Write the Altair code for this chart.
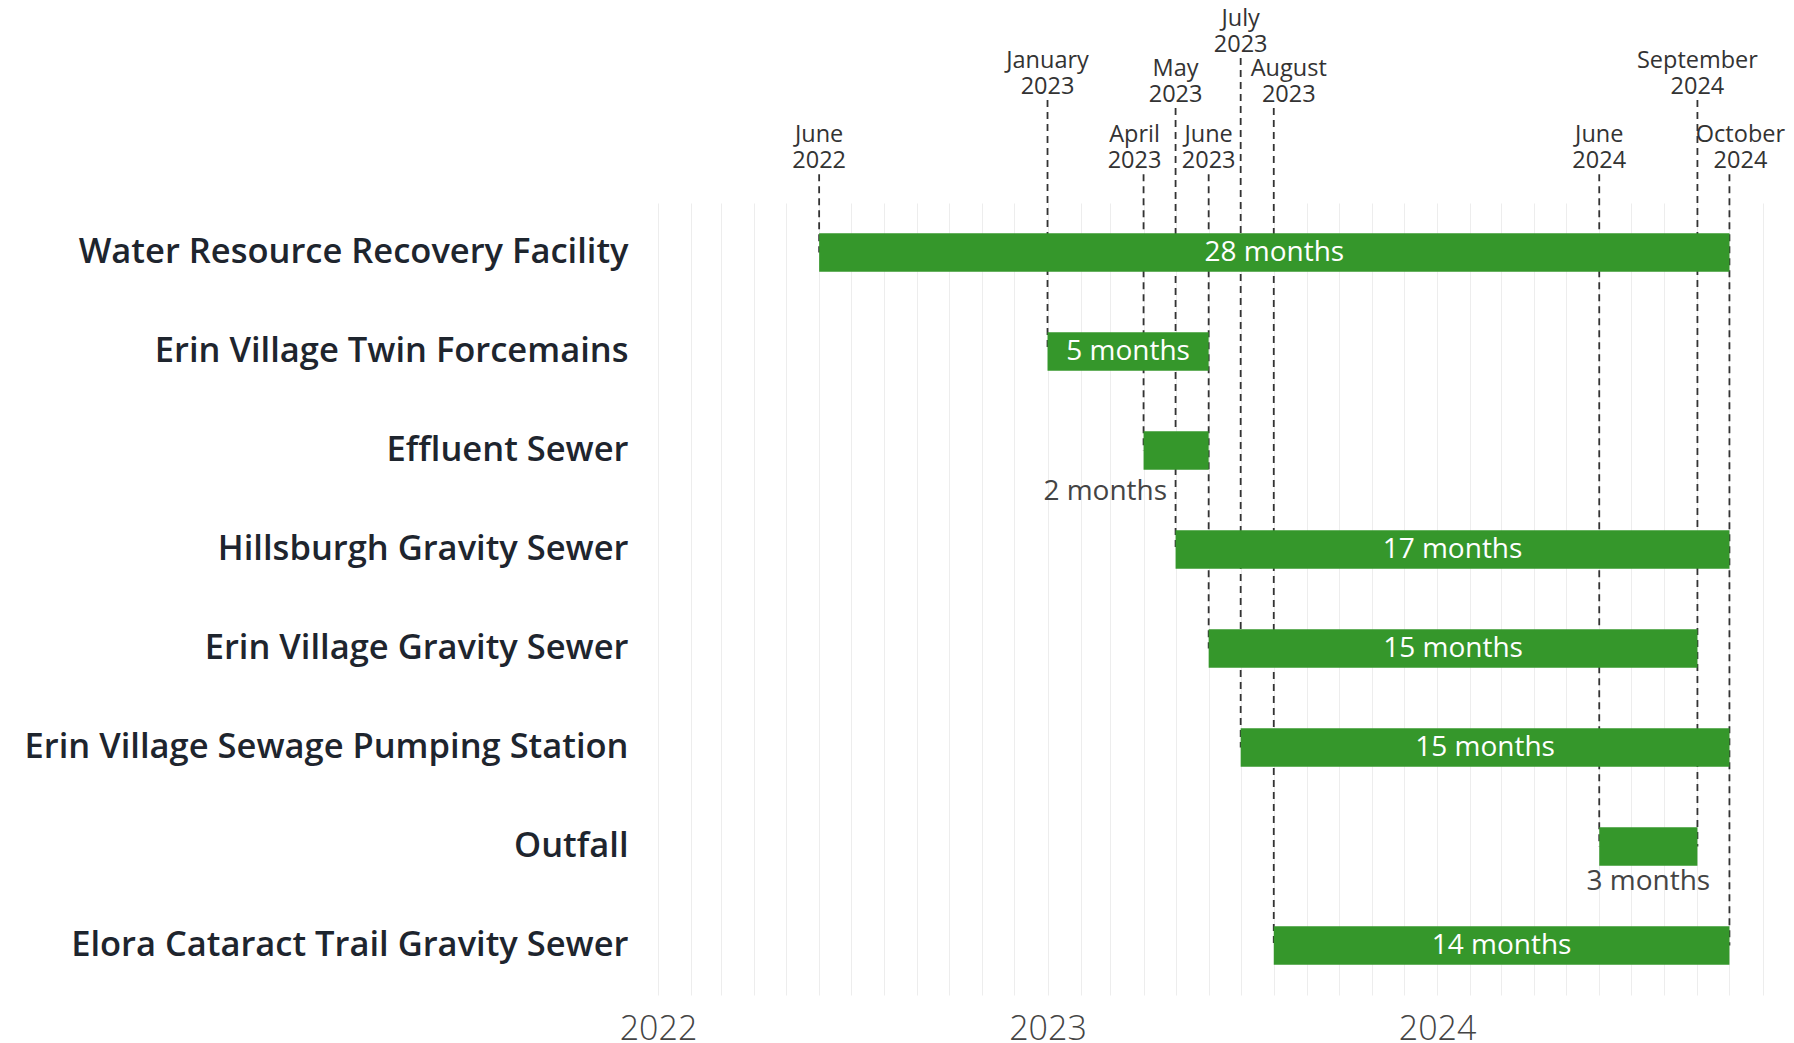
import altair as alt
import pandas as pd

# ---- data ----
projects = [
    "Water Resource Recovery Facility",
    "Erin Village Twin Forcemains",
    "Effluent Sewer",
    "Hillsburgh Gravity Sewer",
    "Erin Village Gravity Sewer",
    "Erin Village Sewage Pumping Station",
    "Outfall",
    "Elora Cataract Trail Gravity Sewer",
]
starts = ["2022-06-01", "2023-01-01", "2023-04-01", "2023-05-01",
          "2023-06-01", "2023-07-01", "2024-06-01", "2023-08-01"]
ends = ["2024-10-01", "2023-06-01", "2023-06-01", "2024-10-01",
        "2024-09-01", "2024-10-01", "2024-09-01", "2024-10-01"]
durations = [28, 5, 2, 17, 15, 15, 3, 14]

milestone_dates = ["2022-06-01", "2023-01-01", "2023-04-01", "2023-05-01", "2023-06-01",
                   "2023-07-01", "2023-08-01", "2024-06-01", "2024-09-01", "2024-10-01"]
milestone_labels = ["June\n2022", "January\n2023", "April\n2023", "May\n2023", "June\n2023",
                    "July\n2023", "August\n2023", "June\n2024", "September\n2024", "October\n2024"]
milestone_tiers = ["low", "high", "low", "mid", "low", "top", "mid", "low", "high", "low"]
# which way a crowded label is nudged off its line
milestone_nudge = ["none", "none", "left", "none", "none", "none", "right", "none", "none", "edge"]

# ---- tables ----
bars = pd.DataFrame({
    "project": projects,
    "start": pd.to_datetime(starts),
    "end": pd.to_datetime(ends),
    "months": durations,
})
bars["mid"] = bars["start"] + (bars["end"] - bars["start"]) / 2
bars["label"] = bars["months"].astype(str) + " months"

# lowest bar touching each milestone date
bottom_rows = []
for d in milestone_dates:
    rows = [i for i in range(len(projects)) if starts[i] == d or ends[i] == d]
    bottom_rows.append(max(rows))

tier_offset = {"low": -0.79, "mid": -1.46, "high": -1.54, "top": -1.965}
ms = pd.DataFrame({
    "date": pd.to_datetime(milestone_dates),
    "label": milestone_labels,
    "top": [tier_offset[t] for t in milestone_tiers],
    "bottom": bottom_rows,
    "nudge": milestone_nudge,
})

GREEN = "#35972b"
FONT = "Open Sans"

x_values = [alt.DateTime(year=y, month=m, date=1) for y in (2022, 2023, 2024) for m in range(1, 13)]
x_scale = alt.Scale(domain=[alt.DateTime(year=2022, month=1, date=1),
                            alt.DateTime(year=2024, month=11, date=23)], nice=False)
x_axis = alt.Axis(values=x_values, labelExpr="month(datum.value) == 0 ? timeFormat(datum.value, '%Y') : ''",
                  grid=True, gridColor="#ededed", gridWidth=1, ticks=False, domain=False,
                  labelFont=FONT, labelFontSize=34, labelFontWeight=300,
                  labelColor="#444444", labelPadding=17, labelFlush=False, labelOverlap=False, title=None)


def X(field):
    return alt.X(field, scale=x_scale, axis=x_axis, title=None)


y_band = alt.Y("project:N", sort=projects, title=None,
               scale=alt.Scale(paddingInner=0.61, paddingOuter=0.305),
               axis=alt.Axis(ticks=False, domain=False, grid=False, labelFont=FONT, labelFontSize=34.5,
                             labelFontWeight=600, labelColor="#1e252e", labelPadding=30, labelLimit=800))

base = alt.Chart(bars)
bar = base.mark_bar(color=GREEN, cornerRadius=0).encode(
    x=X("start:T"),
    x2="end:T",
    y=y_band,
)
inside = base.transform_filter("datum.months > 3").mark_text(
    color="white", font=FONT, fontSize=28, fontWeight=500, baseline="middle", align="center"
).encode(x=X("mid:T"), y=y_band, text="label:N")
out_eff = base.transform_filter("datum.project == 'Effluent Sewer'").mark_text(
    color="#444444", font=FONT, fontSize=28, fontWeight=400, baseline="middle", align="right", dx=-9, dy=41
).encode(x=X("mid:T"), y=y_band, text="label:N")
out_out = base.transform_filter("datum.project == 'Outfall'").mark_text(
    color="#444444", font=FONT, fontSize=28, fontWeight=400, baseline="middle", align="center", dy=35
).encode(x=X("mid:T"), y=y_band, text="label:N")
bar_layer = alt.layer(bar, inside, out_eff, out_out)

y_rows = alt.Scale(domain=[-0.5, len(projects) - 0.5], reverse=True, nice=False, zero=False)
Y_TOP = alt.Y("top:Q", scale=y_rows, axis=None)
mbase = alt.Chart(ms)
rules = mbase.mark_rule(color="#333333", strokeDash=[7, 5], strokeWidth=1.8).encode(
    x=X("date:T"),
    y=Y_TOP,
    y2="bottom:Q",
)
text_style = dict(color="#333333", font=FONT, fontSize=23.5, fontWeight=400, lineBreak="\n",
                  lineHeight=26, baseline="bottom", align="center", dy=-27)
mtexts = []
for nudge, dx in (("none", 0), ("left", -9), ("right", 15), ("edge", 11)):
    mtexts.append(
        mbase.transform_filter(f"datum.nudge == '{nudge}'").mark_text(dx=dx, **text_style).encode(
            x=X("date:T"), y=Y_TOP, text="label:N")
    )
ann_layer = alt.layer(rules, *mtexts)

chart = alt.layer(ann_layer, bar_layer).resolve_scale(y="independent").properties(
    width=1128, height=792,
    background="white",
    autosize=alt.AutoSizeParams(type="none"),
    padding={"left": 650, "top": 195, "right": 0, "bottom": 60},
).configure_view(strokeWidth=0, stroke="transparent")

chart.save("out.html", embed_options={"renderer": "svg", "actions": False})
